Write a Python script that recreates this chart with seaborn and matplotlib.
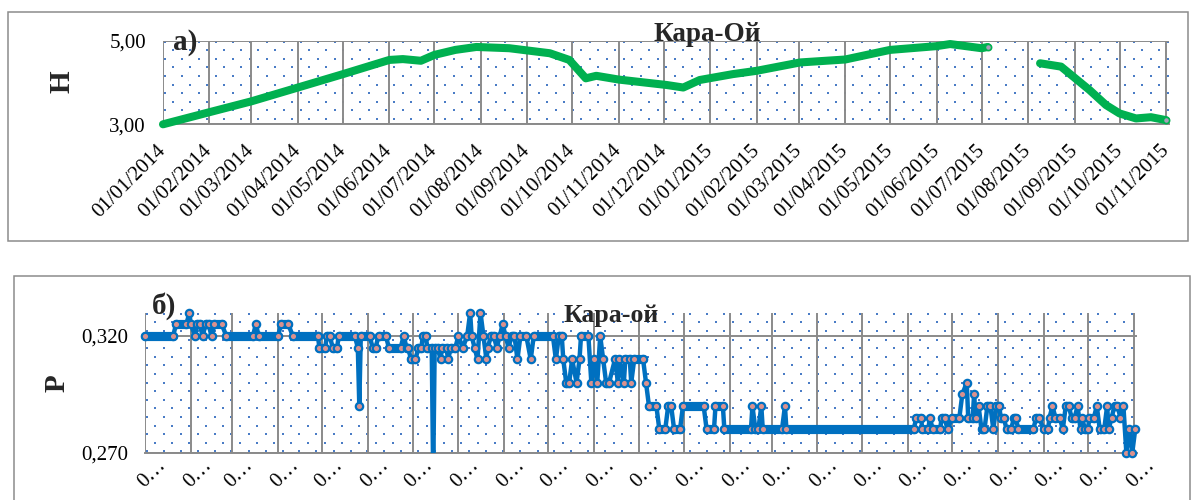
import numpy as np
import pandas as pd
import matplotlib
matplotlib.use("Agg")
import matplotlib.pyplot as plt
import matplotlib.dates as mdates
from matplotlib.patches import Rectangle
from matplotlib.ticker import FuncFormatter
from matplotlib.transforms import ScaledTranslation
import seaborn as sns

# ---------------- data ----------------
START = pd.Timestamp("2014-01-01")
END = START + pd.Timedelta(days=671)

# water level H (two observation periods with a break in summer 2015)
h_dates_1 = ["2014-01-01", "2014-02-01", "2014-03-01", "2014-04-01", "2014-05-01",
             "2014-06-01", "2014-06-10", "2014-06-22", "2014-07-01", "2014-07-15",
             "2014-07-29", "2014-08-20", "2014-09-16", "2014-09-29", "2014-10-10",
             "2014-10-17", "2014-11-01", "2014-12-03", "2014-12-14", "2014-12-25",
             "2015-01-16", "2015-02-01", "2015-03-02", "2015-04-01", "2015-05-01",
             "2015-06-01", "2015-06-10", "2015-07-01", "2015-07-05"]
h_values_1 = [3.00, 3.29, 3.55, 3.88, 4.20,
              4.54, 4.56, 4.52, 4.66, 4.78,
              4.85, 4.82, 4.70, 4.54, 4.10,
              4.16, 4.07, 3.94, 3.88, 4.06,
              4.20, 4.28, 4.48, 4.55, 4.78,
              4.87, 4.92, 4.82, 4.85]
h_dates_2 = ["2015-08-09", "2015-08-23", "2015-09-11", "2015-09-22",
             "2015-10-01", "2015-10-12", "2015-10-22", "2015-11-01"]
h_values_2 = [4.46, 4.38, 3.82, 3.46, 3.26, 3.14, 3.17, 3.10]

# P: day number since 01/01/2014 at each change of the recorded value
p_day = [
    0, 19, 21, 28, 30, 31, 34, 35, 37, 39,
    41, 43, 45, 47, 52, 55, 73, 75, 77, 90,
    92, 97, 100, 117, 118, 122, 123, 125, 127, 130,
    131, 142, 144, 145, 146, 152, 154, 156, 158, 163,
    165, 173, 175, 177, 178, 180, 183, 185, 187, 188,
    190, 191, 194, 195, 196, 198, 200, 201, 204, 205,
    207, 210, 212, 215, 218, 220, 221, 223, 225, 227,
    229, 231, 232, 234, 236, 238, 240, 242, 244, 246,
    248, 250, 252, 254, 258, 261, 263, 276, 278, 280,
    282, 283, 285, 287, 289, 292, 294, 295, 300, 302,
    304, 306, 308, 310, 312, 314, 318, 320, 321, 324,
    325, 328, 329, 331, 337, 339, 341, 346, 348, 352,
    354, 356, 358, 362, 364, 378, 380, 385, 386, 391,
    392, 410, 411, 413, 415, 417, 418, 431, 433, 434,
    520, 522, 525, 526, 530, 531, 533, 538, 539, 541,
    543, 546, 551, 553, 556, 557, 560, 561, 562, 564,
    566, 568, 570, 572, 574, 576, 578, 579, 581, 583,
    586, 588, 589, 591, 601, 603, 605, 608, 611, 612,
    614, 616, 619, 621, 623, 625, 627, 629, 631, 633,
    634, 636, 638, 639, 642, 644, 646, 649, 651, 652,
    654, 656, 658, 660, 662, 664, 666, 668, 670]
p_value = [
    .320, .320, .325, .325, .330, .325, .320, .325, .325, .320,
    .325, .325, .320, .325, .325, .320, .320, .325, .320, .320,
    .325, .325, .320, .320, .315, .315, .320, .320, .315, .315,
    .320, .320, .315, .290, .320, .320, .315, .315, .320, .320,
    .315, .315, .320, .315, .315, .310, .310, .315, .315, .320,
    .320, .315, .315, .260, .315, .315, .310, .315, .315, .310,
    .315, .315, .320, .315, .320, .330, .320, .315, .310, .330,
    .320, .310, .315, .320, .320, .315, .320, .325, .320, .315,
    .320, .320, .310, .320, .320, .310, .320, .320, .310, .320,
    .320, .310, .300, .300, .310, .300, .310, .320, .320, .300,
    .310, .300, .320, .310, .300, .300, .310, .300, .310, .300,
    .310, .310, .300, .310, .310, .300, .290, .290, .280, .280,
    .290, .290, .280, .280, .290, .290, .280, .280, .290, .290,
    .280, .280, .290, .280, .280, .290, .280, .280, .290, .280,
    .280, .285, .285, .280, .280, .285, .280, .280, .285, .285,
    .280, .285, .285, .295, .300, .285, .285, .295, .285, .290,
    .280, .280, .290, .290, .280, .290, .290, .285, .285, .280,
    .280, .285, .285, .280, .280, .285, .285, .280, .280, .285,
    .290, .285, .285, .280, .290, .290, .285, .285, .290, .280,
    .285, .280, .280, .285, .285, .290, .280, .280, .290, .280,
    .285, .290, .290, .285, .290, .270, .280, .270, .280]

h_ticks = [3.00, 5.00]
p_ticks = [0.270, 0.320]
h_limits = (3.0, 5.0)
p_limits = (0.270, 0.330)

# ---------------- style ----------------
sns.set_theme(style="white")
plt.rcParams["font.family"] = ["Liberation Serif", "DejaVu Serif"]

GREEN = "#00B050"
BLUE = "#0070C0"
PINK = "#D9918E"
MARK_GREY = "#A8A0BA"
GRID = "#8A8A8A"
DOT = "#4A7CC6"
FRAME = "#8C8C8C"

W, H = 1192, 500
fig = plt.figure(figsize=(W / 100, H / 100), dpi=100)

# chart frames
fig.add_artist(Rectangle((8 / W, 1 - 241 / H), 1180 / W, 229 / H, transform=fig.transFigure,
                         fill=False, edgecolor=FRAME, lw=1.1))
fig.add_artist(Rectangle((14 / W, -0.05), 1176 / W, 0.05 + 1 - 276 / H, transform=fig.transFigure,
                         fill=False, edgecolor=FRAME, lw=1.1))

# plot areas (pixel boxes: left, top, right, bottom)
top_box = (163, 40.7, 1169, 124.3)
bot_box = (145, 312.7, 1136.7, 452.7)


def add_axes(box):
    l, t, r, b = box
    return fig.add_axes([l / W, 1 - b / H, (r - l) / W, (b - t) / H])


ax1 = add_axes(top_box)
ax2 = add_axes(bot_box)


def dotted_fill(ax, box):
    """Blue dotted-grid fill of the plot area."""
    l, t, r, b = box
    wp, hp = r - l, b - t
    dx, dy = 17.0, 8.6
    xs, ys = [], []
    for i, yy in enumerate(np.arange(0, hp + 0.01, dy)):
        off = 1.5 if i % 2 == 0 else 1.5 + dx / 2
        row = np.arange(off, wp, dx)
        xs.append(row)
        ys.append(np.full_like(row, yy + 1.0))
    xs = np.concatenate(xs)
    ys = np.concatenate(ys)
    ax.scatter(xs / wp, 1 - ys / hp, transform=ax.transAxes, s=2.2, marker="s",
               color=DOT, linewidths=0, zorder=0.3, clip_on=True)


def style_axes(ax, yticks, ylim):
    ax.set_facecolor("white")
    ax.set_xlim(START, END)
    ax.set_ylim(*ylim)
    ax.set_yticks(yticks)
    ax.xaxis.set_major_locator(mdates.MonthLocator(bymonthday=1))
    for s in ["top", "right", "left"]:
        ax.spines[s].set_visible(False)
    ax.spines["bottom"].set_color(GRID)
    ax.spines["bottom"].set_linewidth(1.4)
    ax.grid(True, axis="both", color=GRID, linewidth=1.4)
    ax.set_axisbelow(True)
    ax.tick_params(axis="both", which="major", direction="out", length=3.8, width=1.4,
                   color=GRID, labelsize=15, labelcolor="black")
    ax.tick_params(axis="y", pad=8.5)


# ---------------- panel a): H ----------------
h1 = pd.DataFrame({"date": pd.to_datetime(h_dates_1), "H": h_values_1})
h2 = pd.DataFrame({"date": pd.to_datetime(h_dates_2), "H": h_values_2})

style_axes(ax1, h_ticks, h_limits)
dotted_fill(ax1, top_box)
for seg in (h1, h2):
    sns.lineplot(data=seg, x="date", y="H", ax=ax1, color=GREEN, linewidth=5.8,
                 estimator=None, sort=False, solid_capstyle="round",
                 solid_joinstyle="round", clip_on=False, zorder=3)
ends = pd.concat([h1.tail(1), h2.tail(1)])
sns.scatterplot(data=ends, x="date", y="H", ax=ax1, s=20, color=MARK_GREY,
                edgecolor=GREEN, linewidth=1.2, zorder=4, clip_on=False)
ax1.set_xlim(START, END)
ax1.set_ylim(*h_limits)
ax1.set_xlabel("")

ax1.xaxis.set_major_formatter(mdates.DateFormatter("%d/%m/%Y"))
ax1.yaxis.set_major_formatter(FuncFormatter(lambda v, p: f"{v:.2f}".replace(".", ",")))
ax1.tick_params(axis="x", pad=13)
for lab in ax1.get_xticklabels():
    lab.set_rotation(45)
    lab.set_ha("right")
    lab.set_va("center")
    lab.set_rotation_mode("anchor")
ax1.set_ylabel("H", fontsize=21, fontweight="bold", rotation=90)
ax1.yaxis.set_label_coords(62 / W, 1 - 82 / H, transform=fig.transFigure)
ax1.yaxis.label.set_va("center")

fig.text(173 / W, 1 - 49.5 / H, "а)", fontsize=21, fontweight="bold", ha="left", va="baseline")
fig.text(707 / W, 1 - 41 / H, "Кара-Ой", fontsize=19.5, fontweight="bold", ha="center", va="baseline")

# ---------------- panel б): P ----------------
assert len(p_day) == len(p_value)
pdf = pd.DataFrame({"date": START + pd.to_timedelta(p_day, unit="D"), "P": p_value})

style_axes(ax2, p_ticks, p_limits)
dotted_fill(ax2, bot_box)

# connecting line
sns.lineplot(data=pdf, x="date", y="P", ax=ax2, color=BLUE, linewidth=3.2,
             estimator=None, sort=False, solid_joinstyle="round", zorder=3)
# periods of unchanged value
for i in range(len(pdf) - 1):
    if pdf["P"].iloc[i] == pdf["P"].iloc[i + 1]:
        ax2.plot(pdf["date"].iloc[i:i + 2], pdf["P"].iloc[i:i + 2], color=BLUE,
                 linewidth=6.6, solid_capstyle="round", zorder=3.5, clip_on=False)
# observation markers (only those inside the value range)
shown = pdf[pdf["P"] >= p_limits[0]]
sns.scatterplot(data=shown, x="date", y="P", ax=ax2, s=28, color=PINK,
                edgecolor=BLUE, linewidth=1.6, zorder=4, clip_on=False)
ax2.set_xlim(START, END)
ax2.set_ylim(*p_limits)
ax2.set_xlabel("")

ax2.xaxis.set_major_formatter(FuncFormatter(lambda v, p: "0…"))
ax2.yaxis.set_major_formatter(FuncFormatter(lambda v, p: f"{v:.3f}".replace(".", ",")))
ax2.tick_params(axis="x", pad=11)
shift = ScaledTranslation(7 / 100, 0, fig.dpi_scale_trans)
for lab in ax2.get_xticklabels():
    lab.set_rotation(45)
    lab.set_ha("center")
    lab.set_va("center")
    lab.set_rotation_mode("anchor")
    lab.set_transform(lab.get_transform() + shift)
ax2.set_ylabel("P", fontsize=21, fontweight="bold", rotation=90)
ax2.yaxis.set_label_coords(57 / W, 1 - 383 / H, transform=fig.transFigure)
ax2.yaxis.label.set_va("center")

fig.text(152 / W, 1 - 313.5 / H, "б)", fontsize=21, fontweight="bold", ha="left", va="baseline")
fig.text(611 / W, 1 - 321.7 / H, "Кара-ой", fontsize=18.5, fontweight="bold", ha="center", va="baseline")

fig.savefig("out.png", dpi=100, facecolor="white")
